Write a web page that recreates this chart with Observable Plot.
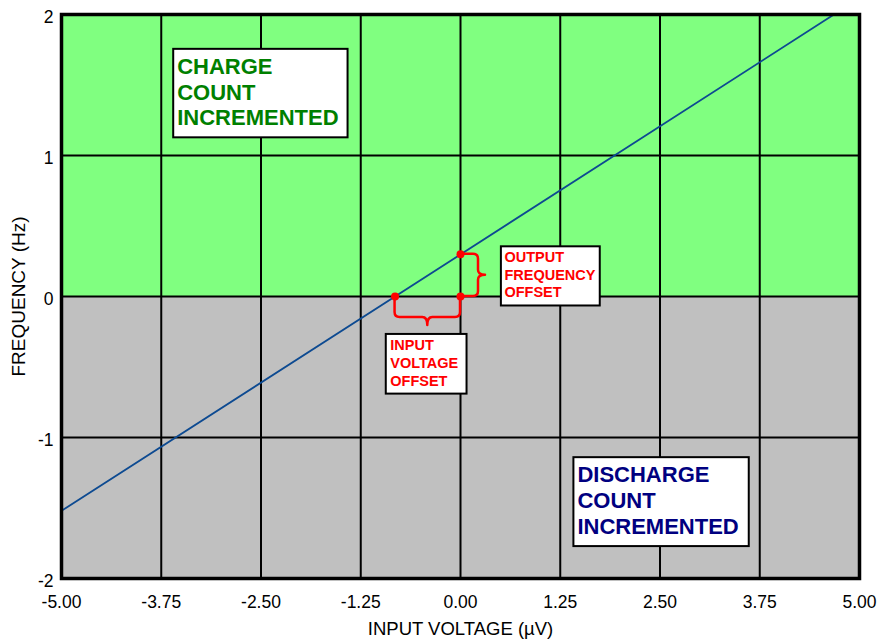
<!DOCTYPE html>
<html><head><meta charset="utf-8">
<script src="https://cdn.jsdelivr.net/npm/d3@7"></script>
<script src="https://cdn.jsdelivr.net/npm/@observablehq/plot@0.6"></script>
<style>
body{margin:0;background:#fff;}
#chart svg{display:block;}
</style>
</head><body><div id="chart"></div>
<script>
// ---- data ----
const xDomain = [-5, 5];
const yDomain = [-2, 2];
const xTicks = [-5, -3.75, -2.5, -1.25, 0, 1.25, 2.5, 3.75, 5];
const yTicks = [-2, -1, 0, 1, 2];
const chargeRegion = [0, 2];      // frequency range (Hz)
const dischargeRegion = [-2, 0];  // frequency range (Hz)
const transferX = [-5, 4.68];     // input voltage (µV)
const transferY = [-1.52, 2.0];   // frequency (Hz)
const inputOffset = -0.82;        // µV
const outputOffset = 0.30;        // Hz
const chargeNote = ["CHARGE", "COUNT", "INCREMENTED"];
const dischargeNote = ["DISCHARGE", "COUNT", "INCREMENTED"];
const outputNote = ["OUTPUT", "FREQUENCY", "OFFSET"];
const inputNote = ["INPUT", "VOLTAGE", "OFFSET"];
const xLabel = "INPUT VOLTAGE (µV)";
const yLabel = "FREQUENCY (Hz)";

// ---- derived tables ----
const transfer = transferX.map((x, i) => ({x, y: transferY[i]}));
const offsetDots = [
  {x: inputOffset, y: 0},
  {x: 0, y: outputOffset},
  {x: 0, y: 0}
];

const FONT = "'Liberation Sans', Arial, Helvetica, sans-serif";

function brace(p, q, normal, depth, tip, r) {
  return (index, scales) => {
    const x1 = scales.x(p[0]), y1 = scales.y(p[1]);
    const x2 = scales.x(q[0]), y2 = scales.y(q[1]);
    const len = Math.hypot(x2 - x1, y2 - y1);
    const tx = (x2 - x1) / len, ty = (y2 - y1) / len;
    const [nx, ny] = normal;
    const P = (u, v) => (x1 + u * tx + v * nx).toFixed(2) + "," + (y1 + u * ty + v * ny).toFixed(2);
    const m = len / 2, d = depth;
    const path = `M${P(0, 0)}L${P(0, d - r)}Q${P(0, d)} ${P(r, d)}L${P(m - r, d)}Q${P(m, d)} ${P(m, d + tip)}` +
      `Q${P(m, d)} ${P(m + r, d)}L${P(len - r, d)}Q${P(len, d)} ${P(len, d - r)}L${P(len, 0)}`;
    return d3.create("svg:path")
      .attr("d", path).attr("fill", "none")
      .attr("stroke", "#ff0000").attr("stroke-width", 2.5)
      .attr("stroke-linejoin", "round").attr("stroke-linecap", "round")
      .node();
  };
}

function note(lines, x, y, o) {
  return Plot.text([lines.join("\n")], {
    x, y, text: d => d,
    textAnchor: "start", lineAnchor: "middle",
    fontFamily: FONT, fontWeight: "bold",
    ...o
  });
}

const chart = Plot.plot({
  width: 880,
  height: 642,
  marginLeft: 61,
  marginRight: 21,
  marginTop: 14,
  marginBottom: 64,
  style: {fontFamily: FONT, fontSize: "17.5px", color: "#000", background: "#fff"},
  x: {domain: xDomain, ticks: xTicks},
  y: {domain: yDomain, ticks: yTicks},
  marks: [
    Plot.rect([chargeRegion], {x1: xDomain[0], x2: xDomain[1], y1: d => d[0], y2: d => d[1], fill: "#80ff80"}),
    Plot.rect([dischargeRegion], {x1: xDomain[0], x2: xDomain[1], y1: d => d[0], y2: d => d[1], fill: "#c0c0c0"}),
    Plot.gridX(xTicks, {stroke: "#000", strokeOpacity: 1, strokeWidth: 2}),
    Plot.gridY(yTicks, {stroke: "#000", strokeOpacity: 1, strokeWidth: 2}),
    Plot.axisX(xTicks, {tickSize: 0, tickPadding: 17, tickFormat: d => d.toFixed(2), label: null, fontSize: 17.5}),
    Plot.axisY(yTicks, {tickSize: 0, tickPadding: 8, dy: 3, tickFormat: d => String(d), label: null, fontSize: 17.5}),
    Plot.line(transfer, {x: "x", y: "y", stroke: "#0d4a91", strokeWidth: 1.8}),
    brace([inputOffset, 0], [0, 0], [0, 1], 21, 8, 5),
    brace([0, outputOffset], [0, 0], [1, 0], 18, 7, 5),
    Plot.dot(offsetDots, {x: "x", y: "y", r: 4, fill: "#ff0000", stroke: "none"}),
    Plot.frame({stroke: "#000", strokeWidth: 3.5}),
    note(chargeNote, -3.55, 1.455, {fill: "#008000", fontSize: 22, lineHeight: 1.17, ariaDescription: "note-big1"}),
    note(dischargeNote, 1.465, -1.442, {fill: "#000080", fontSize: 22, lineHeight: 1.18, ariaDescription: "note-big2"}),
    note(outputNote, 0.55, 0.16, {fill: "#ff0000", fontSize: 14.5, lineHeight: 1.23, ariaDescription: "note-out"}),
    note(inputNote, -0.88, -0.465, {fill: "#ff0000", fontSize: 14.5, lineHeight: 1.23, ariaDescription: "note-in"}),
    Plot.text([xLabel], {frameAnchor: "bottom", dy: 51, textAnchor: "middle", lineAnchor: "middle", fontSize: 18.5, fontFamily: FONT, fill: "#000"}),
    Plot.text([yLabel], {frameAnchor: "left", dx: -43, dy: 0, rotate: -90, textAnchor: "middle", lineAnchor: "middle", fontSize: 19, fontFamily: FONT, fill: "#000"})
  ]
});

document.getElementById("chart").appendChild(chart);

// white boxes behind annotation notes, sized from the rendered text
const pads = {
  "note-big1": [4, 9, 5, 7],
  "note-big2": [4, 10, 5, 7],
  "note-out": [3.5, 4, 2.5, 5],
  "note-in": [4.5, 8, 3, 5]
};
const svg = chart.tagName.toLowerCase() === "svg" ? chart : chart.querySelector("svg");
svg.querySelectorAll("g[aria-description]").forEach(g => {
  const key = g.getAttribute("aria-description");
  if (!pads[key]) return;
  const b = g.getBBox();
  const [l, r, t, bt] = pads[key];
  const rect = document.createElementNS("http://www.w3.org/2000/svg", "rect");
  rect.setAttribute("x", b.x - l);
  rect.setAttribute("y", b.y - t);
  rect.setAttribute("width", b.width + l + r);
  rect.setAttribute("height", b.height + t + bt);
  rect.setAttribute("fill", "#fff");
  rect.setAttribute("stroke", "#000");
  rect.setAttribute("stroke-width", 2);
  g.insertBefore(rect, g.firstChild);
});
</script>
</body></html>
